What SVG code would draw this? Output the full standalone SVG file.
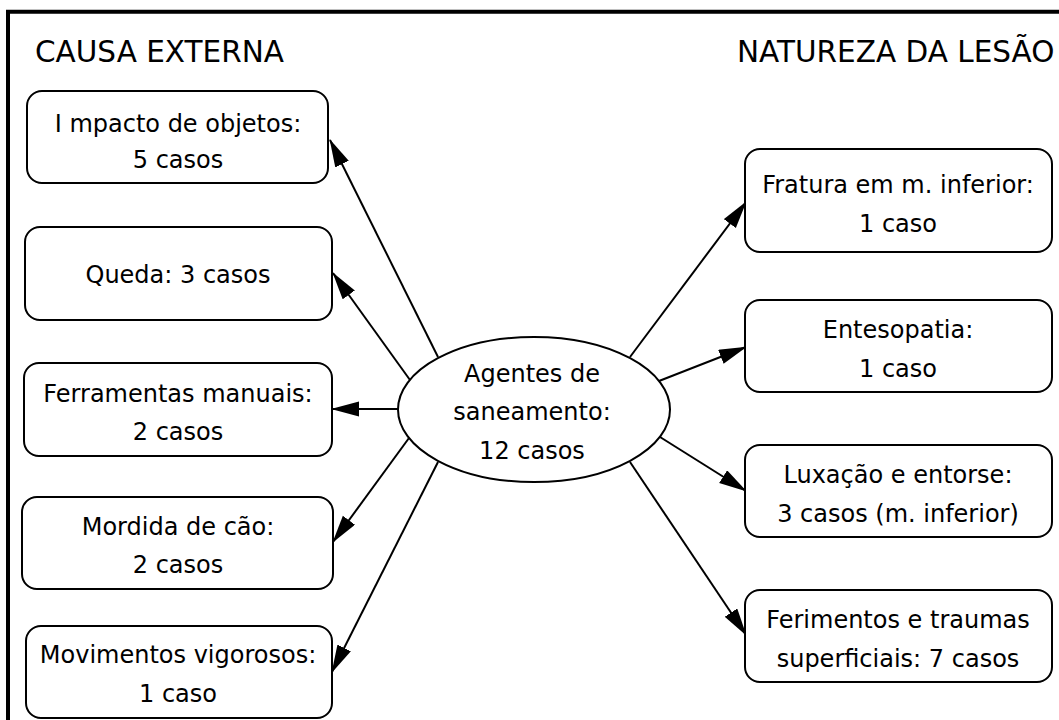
<svg xmlns="http://www.w3.org/2000/svg" width="1059" height="720" viewBox="0 0 1059 720">
<style>
.box{fill:#fff;stroke:#000;stroke-width:2}
.t{font-family:"DejaVu Sans",sans-serif;font-size:24px;fill:#000;text-anchor:middle}
.h{font-family:"DejaVu Sans",sans-serif;font-size:29.5px;fill:#000}
.e{stroke:#000;stroke-width:2;fill:none;marker-end:url(#ah)}
</style>
<defs>
<marker id="ah" markerUnits="userSpaceOnUse" markerWidth="28" markerHeight="16" refX="27" refY="7.5" orient="auto">
<path d="M0,0 L28,7.5 L0,15 z" fill="#000"/>
</marker>
</defs>
<rect width="1059" height="720" fill="#fff"/>
<path d="M8,722 L8,11.7 L1062,11.7" fill="none" stroke="#000" stroke-width="4"/>
<text class="h" x="35" y="62">CAUSA EXTERNA</text>
<text class="h" x="737" y="62">NATUREZA DA LESÃO</text>
<g id="connectors">
<line class="e" x1="438" y1="357" x2="330" y2="140"/>
<line class="e" x1="410" y1="380" x2="333" y2="273"/>
<line class="e" x1="398" y1="409" x2="332" y2="409"/>
<line class="e" x1="409" y1="438" x2="333" y2="542"/>
<line class="e" x1="438" y1="462" x2="332" y2="672"/>
<line class="e" x1="630" y1="357" x2="746" y2="202"/>
<line class="e" x1="659" y1="381" x2="746" y2="347"/>
<line class="e" x1="660" y1="437" x2="746" y2="491"/>
<line class="e" x1="630" y1="462" x2="746" y2="635"/>
</g>
<g id="center">
<ellipse cx="534" cy="409.5" rx="136" ry="72.5" fill="#fff" stroke="#000" stroke-width="2"/>
<text class="t" x="532" y="382">Agentes de</text>
<text class="t" x="532" y="420">saneamento:</text>
<text class="t" x="532" y="459">12 casos</text>
</g>
<g id="impacto">
<rect class="box" x="27" y="91" width="301" height="92" rx="15"/>
<text class="t" x="178" y="132">I mpacto de objetos:</text>
<text class="t" x="178" y="168">5 casos</text>
</g>
<g id="queda">
<rect class="box" x="25" y="227" width="307" height="93" rx="15"/>
<text class="t" x="178" y="283">Queda: 3 casos</text>
</g>
<g id="ferramentas">
<rect class="box" x="24" y="363" width="308" height="93" rx="15"/>
<text class="t" x="178" y="402">Ferramentas manuais:</text>
<text class="t" x="178" y="440">2 casos</text>
</g>
<g id="mordida">
<rect class="box" x="22" y="497" width="311" height="92" rx="15"/>
<text class="t" x="178" y="535">Mordida de cão:</text>
<text class="t" x="178" y="573">2 casos</text>
</g>
<g id="movimentos">
<rect class="box" x="26" y="626" width="306" height="92" rx="15"/>
<text class="t" x="178" y="663">Movimentos vigorosos:</text>
<text class="t" x="178" y="702">1 caso</text>
</g>
<g id="fratura">
<rect class="box" x="745" y="149" width="307" height="103" rx="15"/>
<text class="t" x="898" y="193">Fratura em m. inferior:</text>
<text class="t" x="898" y="232">1 caso</text>
</g>
<g id="entesopatia">
<rect class="box" x="745" y="300" width="307" height="92" rx="15"/>
<text class="t" x="898" y="338">Entesopatia:</text>
<text class="t" x="898" y="377">1 caso</text>
</g>
<g id="luxacao">
<rect class="box" x="745" y="445" width="307" height="92" rx="15"/>
<text class="t" x="898" y="483">Luxação e entorse:</text>
<text class="t" x="898" y="522">3 casos (m. inferior)</text>
</g>
<g id="ferimentos">
<rect class="box" x="745" y="590" width="307" height="92" rx="15"/>
<text class="t" x="898" y="628">Ferimentos e traumas</text>
<text class="t" x="898" y="667">superficiais: 7 casos</text>
</g>
</svg>
